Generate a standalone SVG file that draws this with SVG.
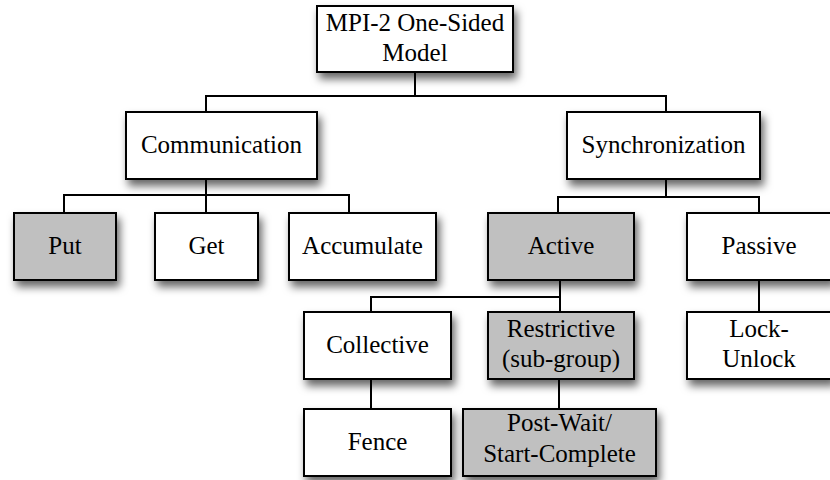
<svg xmlns="http://www.w3.org/2000/svg" width="830" height="480" viewBox="0 0 830 480">
<style>
.box{fill:#fff;stroke:#000;stroke-width:2;filter:url(#sh)}
.g{fill:#c0c0c0}
text{font-family:'Liberation Serif','Times New Roman',serif;font-size:25px;fill:#000;text-anchor:middle}
.c{fill:none;stroke:#000;stroke-width:2}
</style>
<defs>
<filter id="sh" x="-20%" y="-20%" width="150%" height="160%">
<feDropShadow dx="3" dy="6" stdDeviation="4.5" flood-color="#000" flood-opacity="0.6"/>
</filter>
</defs>
<rect width="830" height="480" fill="#fff"/>
<g id="connectors">
<path class="c" d="M415 72V96M206 112V96H666V112"/>
<path class="c" d="M206 179V195M64 213V195H349V213M206 195V213"/>
<path class="c" d="M666 179V197M558 213V197H759V213"/>
<path class="c" d="M560 281V297M371 312V297H560V312"/>
<path class="c" d="M759 281V312"/>
<path class="c" d="M371 379V409"/>
<path class="c" d="M559 379V409"/>
</g>
<g id="root"><rect class="box" x="317" y="6" width="196" height="66"/><text x="415" y="30.5">MPI-2 One-Sided</text><text x="415" y="60.5">Model</text></g>
<g id="communication"><rect class="box" x="126" y="112" width="191" height="67"/><text x="221.5" y="153">Communication</text></g>
<g id="synchronization"><rect class="box" x="567" y="112" width="193" height="67"/><text x="663.5" y="153">Synchronization</text></g>
<g id="put"><rect class="box g" x="14" y="213" width="102" height="67"/><text x="65" y="254">Put</text></g>
<g id="get"><rect class="box" x="155" y="213" width="103" height="67"/><text x="206.5" y="254">Get</text></g>
<g id="accumulate"><rect class="box" x="289" y="213" width="147" height="67"/><text x="362.5" y="254">Accumulate</text></g>
<g id="active"><rect class="box g" x="488" y="213" width="146" height="67"/><text x="561" y="254">Active</text></g>
<g id="passive"><rect class="box" x="687" y="213" width="145" height="67"/><text x="759" y="254">Passive</text></g>
<g id="collective"><rect class="box" x="304" y="312" width="147" height="67"/><text x="377.5" y="353">Collective</text></g>
<g id="restrictive"><rect class="box g" x="488" y="312" width="146" height="67"/><text x="561" y="337">Restrictive</text><text x="561" y="367">(sub-group)</text></g>
<g id="lock-unlock"><rect class="box" x="687" y="312" width="145" height="67"/><text x="759" y="337">Lock-</text><text x="759" y="367">Unlock</text></g>
<g id="fence"><rect class="box" x="304" y="409" width="147" height="67"/><text x="377.5" y="450">Fence</text></g>
<g id="post-wait"><rect class="box g" x="463" y="409" width="193" height="67"/><text x="559.5" y="431">Post-Wait/</text><text x="559.5" y="462">Start-Complete</text></g>
</svg>
